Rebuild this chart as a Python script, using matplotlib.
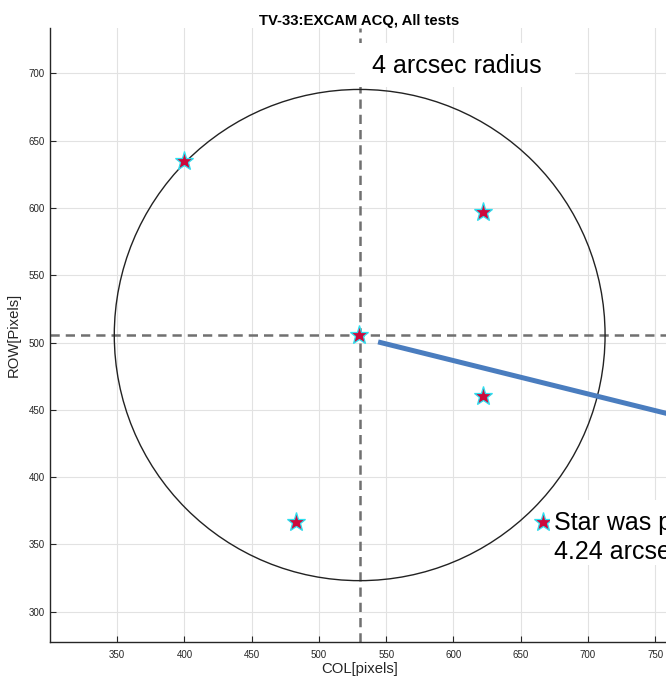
import matplotlib
matplotlib.use("Agg")
import matplotlib.pyplot as plt
from matplotlib.patches import Circle, Rectangle

plt.rcParams['font.family'] = ['Liberation Sans', 'DejaVu Sans']

# ---- data ----
star_col = [400, 622, 530, 622, 483, 667]
star_row = [635, 597, 506, 460, 367, 367]
center_col = 530.3
center_row = 505.6
radius_px = 182.5
pointer_col = [544, 800]
pointer_row = [500.5, 437.1]
x_ticks = [350, 400, 450, 500, 550, 600, 650, 700, 750]
y_ticks = [300, 350, 400, 450, 500, 550, 600, 650, 700]
title_text = "TV-33:EXCAM ACQ, All tests"
xlabel_text = "COL[pixels]"
ylabel_text = "ROW[Pixels]"
radius_text = "4 arcsec radius"
note_text = "Star was placed at\n4.24 arcsec offset"

fig = plt.figure(figsize=(6.66, 6.83), dpi=100)
ax = fig.add_axes([0.0751, 0.0600, 0.9287, 0.8985])

ax.set_xlim(300, 760)
ax.set_ylim(277.5, 733.5)
ax.set_xticks(x_ticks)
ax.set_yticks(y_ticks)
ax.grid(True, color='#e2e2e2', linewidth=0.8, zorder=0)
ax.set_axisbelow(True)

for s in ['top', 'right']:
    ax.spines[s].set_visible(False)
for s in ['left', 'bottom']:
    ax.spines[s].set_color('#262626')
    ax.spines[s].set_linewidth(1.0)

ax.tick_params(direction='in', length=4.5, width=0.8, colors='#262626',
               labelsize=7, pad=3.6)
ax.tick_params(axis='x', pad=5.5)

# dashed cross lines
ax.axvline(center_col, color='#707070', linewidth=1.8, dashes=(3.7, 2.4), zorder=2)
ax.axhline(center_row, color='#707070', linewidth=1.8, dashes=(3.7, 2.4), zorder=2)

# circle
ax.add_patch(Circle((center_col, center_row), radius_px, fill=False,
                    edgecolor='#222222', linewidth=1.0, zorder=2))

# pointer line
ax.plot(pointer_col, pointer_row, color='#4a7dbf', linewidth=3.6,
        solid_capstyle='butt', zorder=3)

# stars
ax.plot(star_col, star_row, linestyle='none', marker='*', markersize=14,
        markerfacecolor='#cc0a3c', markeredgecolor='#2ee0f0',
        markeredgewidth=0.9, zorder=4)

# white boxes behind texts
ax.add_patch(Rectangle((0.493, 0.9044), 0.356, 0.0717, transform=ax.transAxes,
                       facecolor='white', edgecolor='none', zorder=5))
ax.add_patch(Rectangle((0.8084, 0.1255), 0.4, 0.1059, transform=ax.transAxes,
                       facecolor='white', edgecolor='none', zorder=5))

ax.text(539.5, 700.4, radius_text, fontsize=18, color='black',
        ha='left', va='baseline', zorder=6)
ax.text(674.8, 375.0, note_text, fontsize=18, color='black',
        ha='left', va='top', linespacing=1.28, zorder=6)

ax.set_title(title_text, fontsize=10.7, fontweight='bold', pad=1.5)
ax.set_xlabel(xlabel_text, fontsize=10.7, color='#262626', labelpad=2)
ax.set_ylabel(ylabel_text, fontsize=10.7, color='#262626', labelpad=6)

fig.savefig("out.png", dpi=100)
